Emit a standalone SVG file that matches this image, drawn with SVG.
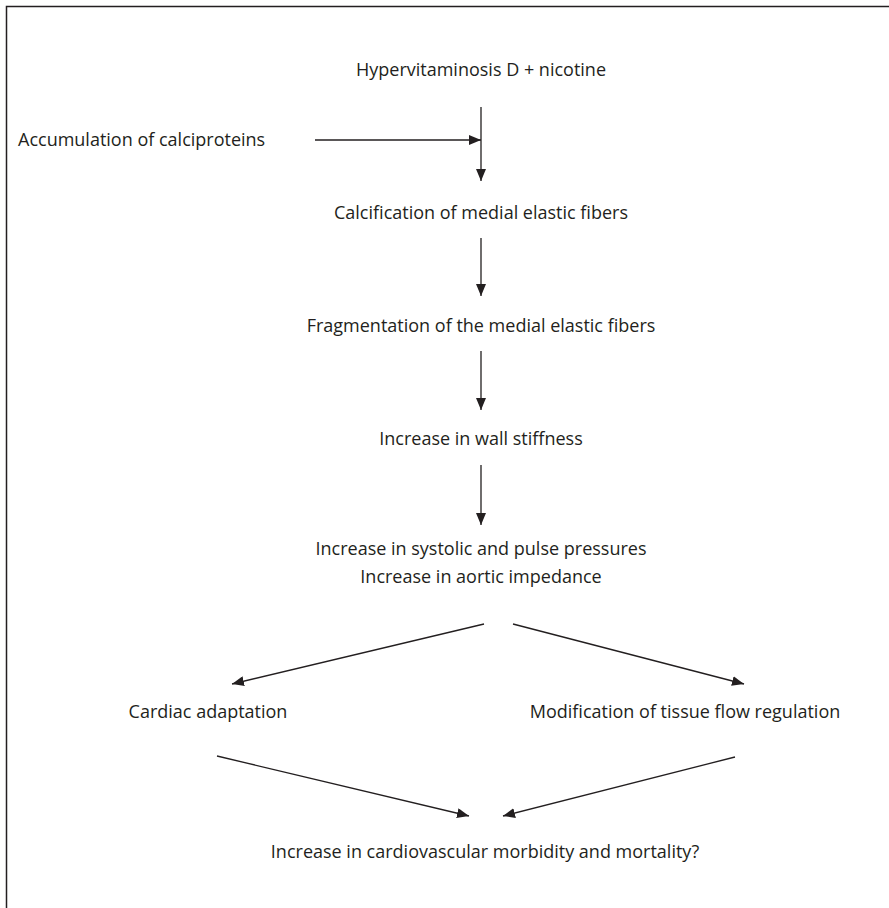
<svg xmlns="http://www.w3.org/2000/svg" width="889" height="908" viewBox="0 0 889 908">
<defs>
<marker id="ah" viewBox="0 0 12 10" refX="12" refY="5" markerWidth="12" markerHeight="10" markerUnits="userSpaceOnUse" orient="auto">
<path d="M0,0 L12,5 L0,10 Z" fill="#231f20"/>
</marker>
<style>
text{font-family:"Open Sans","Noto Sans","Liberation Sans",sans-serif;font-size:18px;fill:#231f20}
.c{text-anchor:middle}
.e{stroke:#231f20;stroke-width:1.3;fill:none;marker-end:url(#ah)}
</style>
</defs>
<rect width="889" height="908" fill="#fff"/>
<path d="M6.5,908 V6.5 H889" fill="none" stroke="#231f20" stroke-width="1.5"/>
<g id="n1"><text class="c" x="481" y="76">Hypervitaminosis D + nicotine</text></g>
<g id="n2"><text x="18" y="146">Accumulation of calciproteins</text></g>
<g id="n3"><text class="c" x="481" y="219">Calcification of medial elastic fibers</text></g>
<g id="n4"><text class="c" x="481" y="332">Fragmentation of the medial elastic fibers</text></g>
<g id="n5"><text class="c" x="481" y="445">Increase in wall stiffness</text></g>
<g id="n6"><text class="c" x="481" y="555">Increase in systolic and pulse pressures</text><text class="c" x="481" y="583">Increase in aortic impedance</text></g>
<g id="n7"><text class="c" x="208" y="718">Cardiac adaptation</text></g>
<g id="n8"><text class="c" x="685" y="718">Modification of tissue flow regulation</text></g>
<g id="n9"><text class="c" x="485" y="858">Increase in cardiovascular morbidity and mortality?</text></g>
<g id="edges">
<line class="e" x1="481" y1="107" x2="481" y2="181"/>
<line class="e" x1="315" y1="140" x2="481" y2="140"/>
<line class="e" x1="481" y1="238" x2="481" y2="296"/>
<line class="e" x1="481" y1="351" x2="481" y2="410"/>
<line class="e" x1="481" y1="465" x2="481" y2="525"/>
<line class="e" x1="484" y1="624" x2="232" y2="684"/>
<line class="e" x1="513" y1="624" x2="744" y2="684"/>
<line class="e" x1="217" y1="756" x2="469" y2="816"/>
<line class="e" x1="735" y1="757" x2="503" y2="816"/>
</g>
</svg>
